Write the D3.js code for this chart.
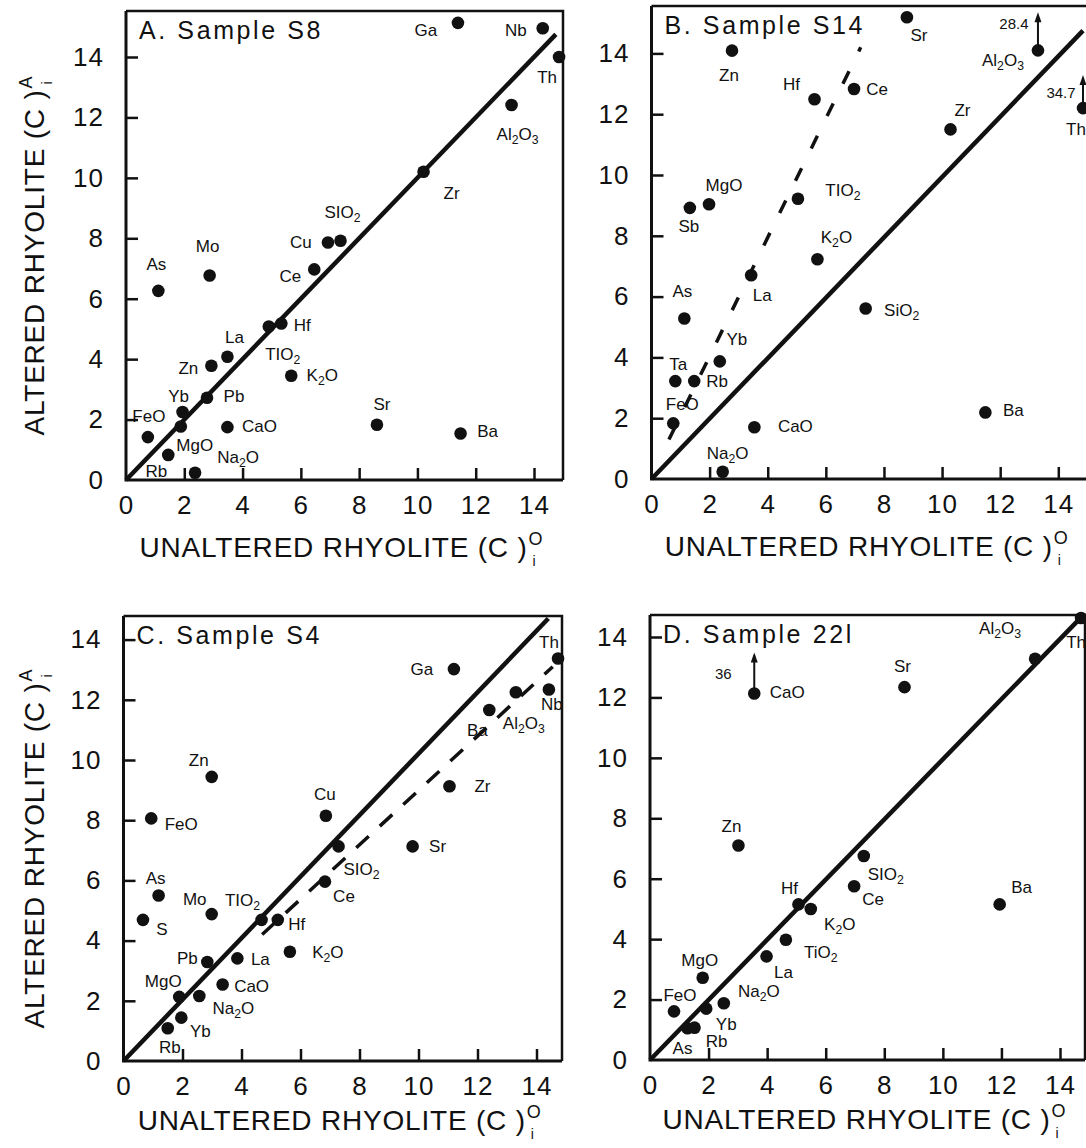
<!DOCTYPE html>
<html lang="en">
<head>
<meta charset="UTF-8">
<title>Altered vs unaltered rhyolite</title>
<script src="https://cdn.jsdelivr.net/npm/d3@7"></script>
<style>
  html, body { margin: 0; padding: 0; background: #fff; }
  svg { display: block; }
  text { font-family: "Liberation Sans", Arial, sans-serif; fill: #111; }
</style>
</head>
<body>
<svg id="chart" width="1086" height="1148"></svg>
<script>
// ---- values (x = unaltered, y = altered) ----
// "_n" marks a subscript digit in a label
const aElems = ["Ga","Nb","Th","Al_2O_3","Zr","SIO_2","Cu","Ce","Hf","TIO_2","La","Zn","K_2O","Pb","Yb","FeO","MgO","Rb","Na_2O","CaO","As","Mo","Sr","Ba"];
const aX = [11.39,14.3,14.86,13.23,10.21,7.36,6.93,6.46,5.33,4.9,3.48,2.93,5.67,2.78,1.94,0.75,1.88,1.45,2.37,3.48,1.11,2.87,8.61,11.48];
const aY = [15.13,14.95,14.0,12.41,10.2,7.92,7.86,6.97,5.18,5.08,4.08,3.78,3.45,2.72,2.25,1.42,1.77,0.83,0.24,1.75,6.26,6.77,1.83,1.54];

const bElems = ["Sr","Zn","Hf","Ce","Al_2O_3","Th","Zr","TIO_2","MgO","Sb","K_2O","La","SiO_2","As","Yb","Ta","Rb","FeO","CaO","Na_2O","Ba"];
const bX = [8.79,2.77,5.61,6.97,13.3,14.85,10.29,5.04,1.98,1.32,5.71,3.43,7.37,1.13,2.35,0.82,1.47,0.75,3.54,2.45,11.49];
const bY = [15.19,14.09,12.49,12.83,14.1,12.2,11.5,9.22,9.04,8.92,7.23,6.7,5.61,5.28,3.87,3.22,3.22,1.83,1.7,0.24,2.19];
const bOffElems = ["Al_2O_3","Th"];
const bOffVals = [28.4, 34.7];

const cElems = ["Ga","Th","Nb","Al_2O_3","Ba","Zr","Zn","Cu","FeO","Sr","SIO_2","Ce","As","Mo","TIO_2","Hf","S","K_2O","La","Pb","CaO","MgO","Na_2O","Yb","Rb"];
const cX = [11.2,14.73,14.42,13.3,12.4,11.05,2.99,6.86,0.94,9.8,7.29,6.83,1.19,2.99,4.68,5.23,0.66,5.64,3.86,2.84,3.36,1.89,2.57,1.96,1.5];
const cY = [13.02,13.37,12.34,12.25,11.66,9.13,9.44,8.15,8.06,7.13,7.13,5.96,5.5,4.88,4.69,4.69,4.69,3.63,3.41,3.29,2.54,2.13,2.16,1.44,1.09];

const dElems = ["Th","Al_2O_3","Sr","CaO","Zn","SIO_2","Ce","Ba","Hf","K_2O","TiO_2","La","MgO","FeO","Na_2O","Yb","Rb","As"];
const dX = [14.72,13.15,8.69,3.56,3.02,7.3,6.97,11.94,5.07,5.49,4.64,3.98,1.8,0.82,2.52,1.92,1.52,1.28];
const dY = [14.63,13.28,12.34,12.13,7.1,6.75,5.75,5.15,5.15,5.0,3.98,3.43,2.72,1.61,1.88,1.7,1.07,1.05];
const dOffElems = ["CaO"];
const dOffVals = [36];

// reference lines (endpoints in data units)
const isoA = [[0,0],[14.75,14.75]];
const isoB = [[0,0],[14.85,14.75]];
const isoC = [[0,0],[14.4,14.7]];
const isoD = [[0,0],[14.72,14.65]];
const dashB = [[0.6,1.3],[7.2,14.2]];
const dashC = [[4.7,4.2],[14.55,13.1]];

const tickVals = [0,2,4,6,8,10,12,14];

// ---- label placement (px offset of label centre from its point) ----
const labA = {Ga:[-32,7],Nb:[-27,2],Th:[-12,20],"Al_2O_3":[6,29],Zr:[28,21],"SIO_2":[2,-29],Cu:[-27,-1],Ce:[-24,7],
  Hf:[21,2],"TIO_2":[14,27],La:[7,-20],Zn:[-23,2],"K_2O":[31,-1],Pb:[27,-2],Yb:[-4,-16],FeO:[1,-21],MgO:[14,18],
  Rb:[-12,16],"Na_2O":[43,-16],CaO:[32,-1],As:[-2,-27],Mo:[-2,-29],Sr:[5,-21],Ba:[27,-2]};
const labB = {Sr:[12,18],Zn:[-3,24],Hf:[-23,-15],Ce:[23,0],"Al_2O_3":[-35,10],Th:[-7,21],Zr:[12,-19],"TIO_2":[45,-9],
  MgO:[15,-19],Sb:[-1,18],"K_2O":[19,-22],La:[11,20],"SiO_2":[36,2],As:[-2,-27],Yb:[17,-22],Ta:[3,-17],Rb:[23,0],
  FeO:[9,-19],CaO:[41,-1],"Na_2O":[5,-19],Ba:[28,-2]};
const labC = {Ga:[-32,0],Th:[-9,-17],Nb:[3,14],"Al_2O_3":[8,31],Ba:[-12,20],Zr:[33,0],Zn:[-13,-17],Cu:[-1,-22],
  FeO:[30,6],Sr:[25,0],"SIO_2":[23,23],Ce:[19,14],As:[-3,-17],Mo:[-17,-15],"TIO_2":[-19,-20],Hf:[19,4],S:[19,9],
  "K_2O":[38,0],La:[23,1],Pb:[-20,-4],CaO:[29,1],MgO:[-16,-16],"Na_2O":[34,12],Yb:[19,13],Rb:[2,19]};
const labD = {Th:[-5,24],"Al_2O_3":[-35,-31],Sr:[-2,-21],CaO:[33,-2],Zn:[-7,-19],"SIO_2":[22,18],Ce:[19,13],Ba:[22,-17],
  Hf:[-9,-16],"K_2O":[29,15],"TiO_2":[35,12],La:[17,16],MgO:[-3,-18],FeO:[6,-16],"Na_2O":[35,-12],Yb:[20,15],
  Rb:[22,13],As:[-5,20]};
const offLabB = {"Al_2O_3":[-24,-27,35],Th:[-22,-15,30]};
const offLabD = {CaO:[-31,-20,38]};

const panels = [
  {title:"A. Sample S8", names:aElems, xs:aX, ys:aY, lab:labA, iso:isoA, dash:null, dashArr:null,
   offNames:[], offVals:[], offLab:{}, box:{x0:126,x14:534,right:563,y0:480,y14:57,top:11,xt:77}, yTitle:true},
  {title:"B. Sample S14", names:bElems, xs:bX, ys:bY, lab:labB, iso:isoB, dash:dashB, dashArr:"14,22",
   offNames:bOffElems, offVals:bOffVals, offLab:offLabB, box:{x0:651.5,x14:1058.3,right:1088,y0:479,y14:53.4,top:6,xt:77}, yTitle:false},
  {title:"C. Sample S4", names:cElems, xs:cX, ys:cY, lab:labC, iso:isoC, dash:dashC, dashArr:"17,15",
   offNames:[], offVals:[], offLab:{}, box:{x0:123.5,x14:536.5,right:562,y0:1061,y14:639.6,top:616,xt:69}, yTitle:true},
  {title:"D. Sample 22l", names:dElems, xs:dX, ys:dY, lab:labD, iso:isoD, dash:null, dashArr:null,
   offNames:dOffElems, offVals:dOffVals, offLab:offLabD, box:{x0:650,x14:1060,right:1085,y0:1060,y14:637,top:615,xt:69}, yTitle:false}
];

const svg = d3.select("#chart");

function addLabel(sel, name, size) {
  const parts = name.split(/_(\d)/);
  const t = sel.append("text").attr("text-anchor", "middle").attr("font-size", size);
  let shifted = false;
  parts.forEach((s, k) => {
    if (s === "") return;
    if (k % 2 === 1) {
      t.append("tspan").attr("dy", 4).attr("font-size", size * 0.72).text(s);
      shifted = true;
    } else {
      t.append("tspan").attr("dy", shifted ? -4 : 0).text(s);
      shifted = false;
    }
  });
  return t;
}

function drawPanel(p) {
  const b = p.box;
  const x = d3.scaleLinear().domain([0, 14]).range([b.x0, b.x14]);
  const y = d3.scaleLinear().domain([0, 14]).range([b.y0, b.y14]);
  const g = svg.append("g");

  // frame
  g.append("path")
    .attr("d", `M${b.x0},${b.top}V${b.y0}H${b.right}`)
    .attr("fill", "none").attr("stroke", "#111").attr("stroke-width", 3);
  g.append("path")
    .attr("d", `M${b.x0},${b.top}H${b.right}V${b.y0}`)
    .attr("fill", "none").attr("stroke", "#111").attr("stroke-width", 2.5);

  // axes, ticks point inward
  const xa = g.append("g").attr("transform", `translate(0,${b.y0})`)
    .call(d3.axisBottom(x).tickValues(tickVals).tickSize(-12).tickPadding(16).tickSizeOuter(0));
  const ya = g.append("g").attr("transform", `translate(${b.x0},0)`)
    .call(d3.axisLeft(y).tickValues(tickVals).tickSize(-12).tickPadding(22).tickSizeOuter(0));
  [xa, ya].forEach(a => {
    a.select(".domain").remove();
    a.attr("font-family", null).attr("font-size", null);
    a.selectAll(".tick line").attr("stroke", "#111").attr("stroke-width", 2.5);
    a.selectAll(".tick text").attr("font-size", 26).attr("fill", "#111").attr("letter-spacing", 1);
  });
  xa.selectAll(".tick").filter(d => d === 0).select("line").remove();
  ya.selectAll(".tick").filter(d => d === 0).select("line").remove();

  // reference lines
  const line = d3.line().x(d => x(d[0])).y(d => y(d[1]));
  g.append("path").attr("d", line(p.iso)).attr("fill", "none")
    .attr("stroke", "#111").attr("stroke-width", 4.5);
  if (p.dash) {
    g.append("path").attr("d", line(p.dash)).attr("fill", "none")
      .attr("stroke", "#111").attr("stroke-width", 3.5).attr("stroke-dasharray", p.dashArr);
  }

  // off-scale arrows
  p.offNames.forEach((nm, k) => {
    const i = p.names.indexOf(nm);
    const cx = x(p.xs[i]), cy = y(p.ys[i]);
    const o = p.offLab[nm];
    g.append("line").attr("x1", cx).attr("y1", cy).attr("x2", cx).attr("y2", cy - o[2])
      .attr("stroke", "#111").attr("stroke-width", 2);
    g.append("path")
      .attr("d", `M${cx},${cy - o[2] - 3}l-3.5,10h7z`).attr("fill", "#111");
    g.append("text").attr("x", cx + o[0]).attr("y", cy + o[1]).attr("dy", "0.35em")
      .attr("text-anchor", "middle").attr("font-size", 15).text(p.offVals[k]);
  });

  // points
  const idx = d3.range(p.names.length);
  g.selectAll("circle.pt").data(idx).join("circle").attr("class", "pt")
    .attr("cx", i => x(p.xs[i])).attr("cy", i => y(p.ys[i]))
    .attr("r", 6.3).attr("fill", "#111");

  // point labels
  idx.forEach(i => {
    const o = p.lab[p.names[i]] || [14, 0];
    addLabel(g, p.names[i], 17)
      .attr("x", x(p.xs[i]) + o[0]).attr("y", y(p.ys[i]) + o[1] + 6);
  });

  // panel title
  g.append("text").attr("x", b.x0 + 13).attr("y", b.top + 28)
    .attr("font-size", 25).attr("letter-spacing", 2.6).text(p.title);

  // x title
  const xc = (b.x0 + b.right) / 2 - 11, xb = b.y0 + b.xt;
  const xt = g.append("text").attr("x", xc).attr("y", xb).attr("text-anchor", "middle")
    .attr("font-size", 28).attr("letter-spacing", 0.8).text("UNALTERED RHYOLITE (C )");
  const xl = xt.node().getComputedTextLength();
  g.append("text").attr("x", xc + xl / 2 + 1).attr("y", xb - 12).attr("font-size", 18).text("O");
  g.append("text").attr("x", xc + xl / 2 + 5).attr("y", xb + 9).attr("font-size", 14).text("i");

  // y title
  if (p.yTitle) {
    const yc = (b.top + b.y0) / 2 + 17;
    const yg = g.append("g").attr("transform", `translate(44,${yc}) rotate(-90)`);
    const yt = yg.append("text").attr("text-anchor", "middle")
      .attr("font-size", 28).attr("letter-spacing", 0.8).text("ALTERED RHYOLITE (C )");
    const yl = yt.node().getComputedTextLength();
    yg.append("text").attr("x", yl / 2 + 1).attr("y", -12).attr("font-size", 18).text("A");
    yg.append("text").attr("x", yl / 2 + 5).attr("y", 8).attr("font-size", 14).text("i");
  }
}

panels.forEach(drawPanel);
</script>
</body>
</html>
